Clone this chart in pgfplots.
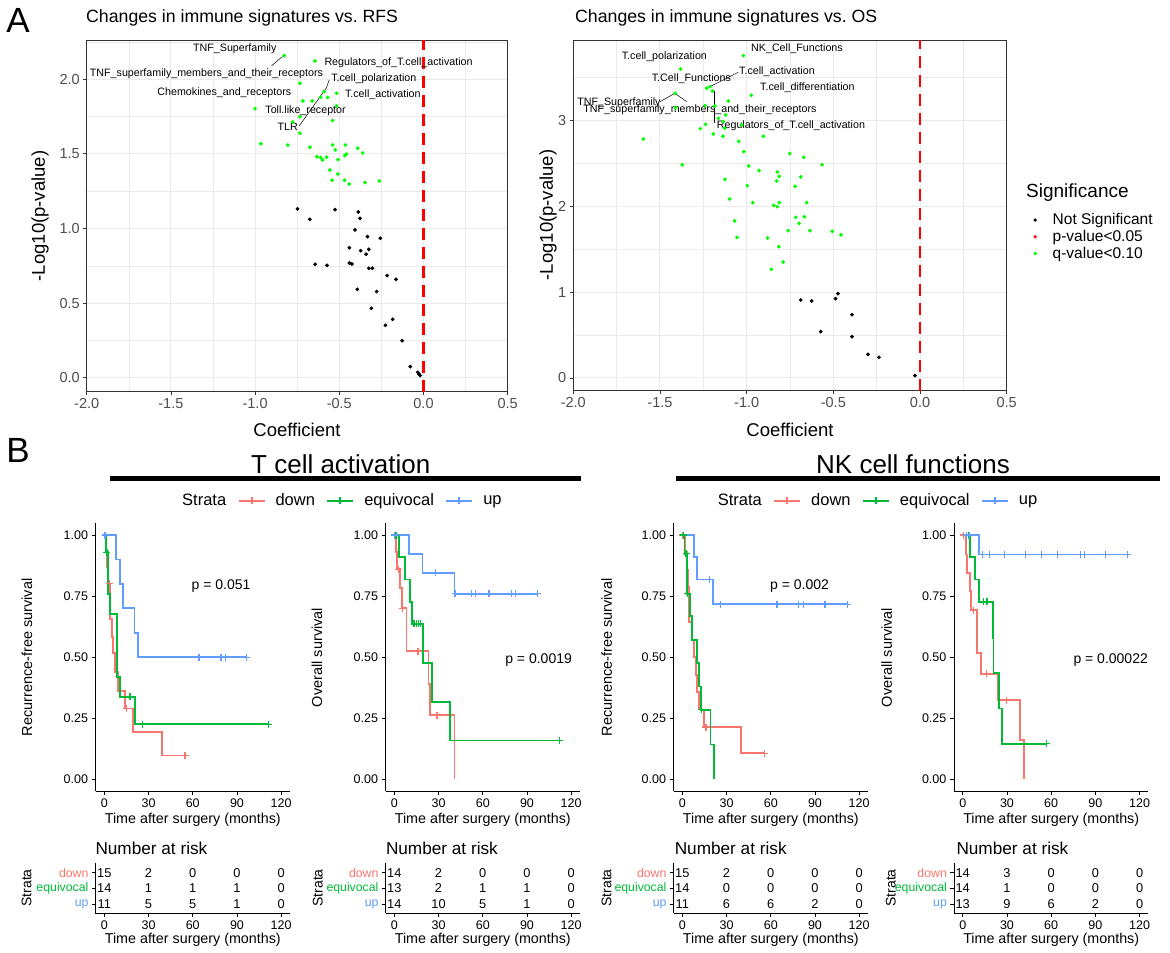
\documentclass[border=0pt]{standalone}
\usepackage{fontspec}
\setmainfont{Liberation Sans}
\usepackage{pgfplots}
\pgfplotsset{compat=1.18}
\definecolor{kmred}{HTML}{F8766D}
\definecolor{kmgreen}{HTML}{00BA38}
\definecolor{kmblue}{HTML}{619CFF}
\definecolor{sigpt}{HTML}{00FF00}
\definecolor{gr20}{HTML}{333333}
\definecolor{gr30}{HTML}{4D4D4D}
\definecolor{gridc}{HTML}{EBEBEB}
\newcommand\fs[1]{\fontsize{#1}{#1}\selectfont}
\tikzset{vlab/.style={font=\fs{10.7}, anchor=west, inner sep=0pt}}

\pgfplotsset{
  volc/.style={scale only axis, anchor=south west, clip=false,
    xmin=-2, xmax=0.5, xtick={-2,-1.5,-1,-0.5,0,0.5},
    minor xtick={-1.75,-1.25,-0.75,-0.25,0.25},
    grid=both, major grid style={gridc, line width=1pt}, minor grid style={gridc, line width=0.5pt},
    axis line style={gr20, line width=0.8pt}, tick align=outside,
    major tick length=3.5pt, minor tick length=0pt, tick style={gr20, line width=0.8pt},
    xtick pos=bottom, ytick pos=left,
    ticklabel style={font=\fs{14.5}, text=gr30},
    /pgf/number format/assume math mode=true,
    xticklabel style={/pgf/number format/.cd, fixed, fixed zerofill, precision=1}},
  gpt/.style={only marks, mark=*, mark size=1.7pt, sigpt},
  bpt/.style={only marks, mark=*, mark size=1.7pt, black},
  dotkey/.style={legend image code/.code={\path[draw=none, fill=none] (0pt,0pt) -- (24pt,0pt); \fill[#1, draw=none] (8.5pt,0pt) circle (1.8pt);}},
  vline/.style={red, line width=2.2pt, dash pattern=on 12pt off 7pt},
  km/.style={scale only axis, anchor=south west, clip=false,
    width=194.5pt, height=268.7pt, xmin=-6, xmax=126, ymin=-0.05, ymax=1.05,
    axis x line*=bottom, axis y line*=left, axis line style={black, line width=0.8pt},
    tick align=outside, major tick length=4pt, tick style={black, line width=0.8pt},
    xtick={0,30,60,90,120}, ytick={0,0.25,0.5,0.75,1},
    yticklabels={0.00,0.25,0.50,0.75,1.00},
    ticklabel style={font=\fs{12.5}, text=black},
    /pgf/number format/assume math mode=true,
    legend image code/.code={\draw[mark repeat=2,mark phase=2,#1] plot coordinates {(0pt,0pt) (13pt,0pt) (26pt,0pt)};},
    legend style={draw=none, fill=none, inner sep=0pt, font=\fs{16.5}, anchor=west,
      nodes={inner sep=0pt},
      /tikz/every odd column/.append style={column sep=10pt},
      /tikz/every even column/.append style={column sep=11.5pt}},
    legend columns=-1},
  kml/.style={const plot, line width=1.8pt, mark=none},
  cens/.style={only marks, mark=+, mark size=3.5pt, mark options={line width=1.2pt}},
  rt/.style={scale only axis, anchor=south west, clip=false,
    width=194.5pt, height=50.1pt, xmin=-6, xmax=126, ymin=0.4, ymax=3.6,
    axis x line*=bottom, axis y line*=left, axis line style={black, line width=0.8pt},
    tick align=outside, major tick length=3.5pt, tick style={black, line width=0.8pt},
    xtick={0,30,60,90,120}, ytick={1,2,3},
    yticklabels={\textcolor{kmblue}{up},\textcolor{kmgreen}{equivocal},\textcolor{kmred}{down}},
    xticklabel style={font=\fs{12.5}, text=black},
    yticklabel style={font=\fs{12.3}},
    /pgf/number format/assume math mode=true},
  rtn/.style={draw=none, mark=none, nodes near coords, point meta=explicit symbolic,
    every node near coord/.append style={anchor=center, font=\fs{12.8}, text=black, inner sep=0pt}},
}

\begin{document}
\begin{tikzpicture}
\useasboundingbox (0pt,0pt) rectangle (1170pt,953pt);

% ---------------- panel A ----------------
\node[font=\fs{35}, inner sep=0pt] at (18pt,933pt) {A};
\node[font=\fs{17.7}, anchor=west, inner sep=0pt] at (86pt,935pt) {Changes in immune signatures vs.\ RFS};
\node[font=\fs{17.7}, anchor=west, inner sep=0pt] at (575pt,935pt) {Changes in immune signatures vs.\ OS};

\begin{axis}[volc, at={(86.7pt,561.3pt)}, width=421pt, height=351.7pt,
  ymin=-0.094, ymax=2.263, ytick={0,0.5,1,1.5,2}, minor ytick={0.25,0.75,1.25,1.75,2.25},
  yticklabel style={/pgf/number format/.cd, fixed, fixed zerofill, precision=1}]
\addplot[vline] coordinates {(0,-0.094) (0,2.263)};
\addplot[bpt] coordinates {
(-0.748,1.131) (-0.526,1.126) (-0.387,1.111) (-0.675,1.061) (-0.377,1.068)
(-0.407,0.990) (-0.333,0.945) (-0.256,0.934) (-0.44,0.871) (-0.373,0.851)
(-0.325,0.860) (-0.341,0.827) (-0.643,0.760) (-0.573,0.753) (-0.44,0.768)
(-0.425,0.762) (-0.325,0.733) (-0.304,0.733) (-0.216,0.684) (-0.163,0.659)
(-0.393,0.592) (-0.278,0.577) (-0.31,0.465) (-0.183,0.391) (-0.226,0.351)
(-0.127,0.248) (-0.079,0.074) (-0.034,0.036) (-0.028,0.025) (-0.02,0.014)};
\addplot[gpt] coordinates {
(-0.827,2.158) (-0.645,2.122) (-0.734,1.973) (-0.589,1.917) (-0.516,1.906)
(-0.611,1.879) (-0.569,1.877) (-0.716,1.854) (-0.661,1.854) (-0.516,1.821)
(-1.0,1.803) (-0.734,1.749) (-0.778,1.714) (-0.54,1.723) (-0.734,1.638)
(-0.966,1.568) (-0.806,1.559) (-0.675,1.544) (-0.54,1.559) (-0.464,1.559)
(-0.524,1.526) (-0.391,1.537) (-0.361,1.506) (-0.633,1.481) (-0.611,1.475)
(-0.575,1.477) (-0.599,1.459) (-0.508,1.461) (-0.468,1.488) (-0.458,1.499)
(-0.556,1.392) (-0.508,1.365) (-0.542,1.323) (-0.468,1.323) (-0.442,1.298)
(-0.347,1.307) (-0.262,1.318)};
\draw[line width=0.5pt] (axis cs:-0.903,2.089) -- (axis cs:-0.838,2.152);
\draw[line width=0.5pt] (axis cs:-0.56,1.995) -- (axis cs:-0.577,1.942) -- (axis cs:-0.738,1.687);
\node[vlab] at (axis cs:-1.369,2.203) {TNF\_Superfamily};
\node[vlab] at (axis cs:-0.589,2.111) {Regulators\_of\_T.cell\_activation};
\node[vlab] at (axis cs:-1.982,2.040) {TNF\_superfamily\_members\_and\_their\_receptors};
\node[vlab] at (axis cs:-0.549,2.002) {T.cell\_polarization};
\node[vlab] at (axis cs:-1.581,1.910) {Chemokines\_and\_receptors};
\node[vlab] at (axis cs:-0.467,1.895) {T.cell\_activation};
\node[vlab] at (axis cs:-0.940,1.788) {Toll.like\_receptor};
\node[vlab] at (axis cs:-0.867,1.682) {TLR};
\end{axis}
\node[font=\fs{18.5}] at (297pt,523pt) {Coefficient};
\node[font=\fs{18.5}, rotate=90] at (40pt,737pt) {-Log10(p-value)};

\begin{axis}[volc, at={(573.3pt,562.3pt)}, width=433.4pt, height=350.7pt,
  ymin=-0.148, ymax=3.939, ytick={0,1,2,3}, minor ytick={0.5,1.5,2.5,3.5},
  legend style={at={(1.0457,0.511)}, anchor=north west, draw=none, fill=none,
    font=\fs{15.5}, inner sep=0pt, row sep=0pt},
  legend cell align=left]
\addlegendimage{dotkey=black}
\addlegendimage{dotkey=red}
\addlegendimage{dotkey=sigpt}
\addplot[vline] coordinates {(0,-0.148) (0,3.939)};
\addplot[bpt] coordinates {
(-0.688,0.909) (-0.625,0.897) (-0.473,0.983) (-0.487,0.925) (-0.392,0.738)
(-0.573,0.540) (-0.392,0.482) (-0.300,0.276) (-0.237,0.241) (-0.029,0.027)};
\addplot[gpt] coordinates {
(-1.019,3.757) (-1.381,3.601) (-1.231,3.376) (-1.212,3.395) (-1.198,3.345)
(-1.413,3.318) (-0.973,3.294) (-1.106,3.228) (-1.240,3.174) (-1.183,3.170)
(-1.410,3.151) (-1.121,3.065) (-1.163,3.026) (-1.135,2.988) (-1.029,2.949)
(-1.237,2.956) (-1.267,2.906) (-1.127,2.910) (-1.192,2.844) (-1.137,2.817)
(-0.904,2.817) (-1.596,2.786) (-1.046,2.758) (-1.017,2.638) (-0.752,2.615)
(-0.671,2.572) (-1.371,2.486) (-0.565,2.486) (-0.988,2.471) (-0.929,2.416)
(-0.823,2.401) (-0.812,2.350) (-0.688,2.343) (-1.125,2.315) (-0.827,2.296)
(-0.996,2.242) (-0.721,2.234) (-1.098,2.086) (-0.965,2.044) (-0.654,2.044)
(-0.844,2.012) (-0.812,2.044) (-0.823,1.997) (-0.717,1.873) (-0.667,1.880)
(-1.069,1.830) (-0.698,1.803) (-1.056,1.639) (-0.760,1.717) (-0.635,1.717)
(-0.506,1.709) (-0.456,1.667) (-0.879,1.632) (-0.815,1.531) (-0.790,1.352)
(-0.858,1.267)};
\legend{Not Significant, p-value<0.05, q-value<0.10}
\draw[line width=0.5pt] (axis cs:-1.048,3.563) -- (axis cs:-1.212,3.395);
\draw[line width=0.5pt] (axis cs:-1.5,3.22) -- (axis cs:-1.414,3.318) -- (axis cs:-1.346,3.22);
\draw[line width=0.5pt] (axis cs:-1.187,3.345) -- (axis cs:-1.187,2.968);
\node[vlab] at (axis cs:-0.975,3.834) {NK\_Cell\_Functions};
\node[vlab] at (axis cs:-1.721,3.745) {T.cell\_polarization};
\node[vlab] at (axis cs:-1.044,3.570) {T.cell\_activation};
\node[vlab] at (axis cs:-1.548,3.493) {T.Cell\_Functions};
\node[vlab] at (axis cs:-0.923,3.383) {T.cell\_differentiation};
\node[vlab] at (axis cs:-1.978,3.209) {TNF\_Superfamily};
\node[vlab] at (axis cs:-1.943,3.124) {TNF\_superfamily\_members\_and\_their\_receptors};
\node[vlab] at (axis cs:-1.173,2.945) {Regulators\_of\_T.cell\_activation};
\end{axis}
\node[font=\fs{18.5}] at (790pt,523pt) {Coefficient};
\node[font=\fs{18.5}, rotate=90] at (548pt,738pt) {-Log10(p-value)};
\node[font=\fs{19}, anchor=west, inner sep=0pt] at (1026pt,760.3pt) {Significance};

% ---------------- panel B ----------------
\node[font=\fs{35}, inner sep=0pt] at (18pt,502.5pt) {B};
\node[font=\fs{26}, inner sep=0pt, anchor=base] at (340.8pt,479.7pt) {T cell activation};
\node[font=\fs{26}, inner sep=0pt, anchor=base] at (913pt,479.7pt) {NK cell functions};
\draw[line width=4.5pt] (110pt,474.7pt) -- (580.8pt,474.7pt);
\draw[line width=4.5pt] (676pt,474.7pt) -- (1160pt,474.7pt);

% KM 1: RFS, T cell activation
\begin{axis}[km, at={(95.5pt,161.5pt)}, legend style={at={(0.3933,1.0823)}}]
\addlegendimage{empty legend}
\addlegendimage{kmred, line width=1.8pt, mark=+, mark size=3.5pt}
\addlegendimage{kmgreen, line width=1.8pt, mark=+, mark size=3.5pt}
\addlegendimage{kmblue, line width=1.8pt, mark=+, mark size=3.5pt}
\addplot[kml, kmred] coordinates {(0,1) (1.2,0.933) (1.8,0.867) (2.5,0.8) (3.8,0.727) (4.0,0.655)
 (5.2,0.584) (6.1,0.516) (7.2,0.438) (9.1,0.363) (14.1,0.29) (19.2,0.194) (39.4,0.097) (54.8,0.097)};
\addplot[cens, kmred] coordinates {(3.4,0.8) (15.2,0.29) (54.8,0.097)};
\addplot[kml, kmgreen] coordinates {(0,1) (1.1,0.929) (2.7,0.76) (3.8,0.676) (8.8,0.42) (10.6,0.338)
 (20.8,0.225) (111.6,0.225)};
\addplot[cens, kmgreen] coordinates {(1.8,0.929) (17.4,0.338) (25.8,0.225) (111.6,0.225)};
\addplot[kml, kmblue] coordinates {(0,1) (7.7,0.9) (10.6,0.8) (12.5,0.7) (20.4,0.6) (23.1,0.5) (96.7,0.5)};
\addplot[cens, kmblue] coordinates {(0.5,1) (64.3,0.5) (79.2,0.5) (82.4,0.5) (96.7,0.5)};
\node[font=\fs{14}] at (axis cs:79.2,0.79) {p = 0.051};
\legend{Strata, down, equivocal, up}
\end{axis}

% KM 2: OS, T cell activation
\begin{axis}[km, at={(385.5pt,161.5pt)}]
\addplot[kml, kmred] coordinates {(0,1) (0.9,0.93) (1.6,0.86) (3.9,0.783) (5,0.70) (8.2,0.525)
 (23.2,0.39) (24.4,0.262) (40.8,0)};
\addplot[cens, kmred] coordinates {(2.7,0.86) (5.5,0.70) (16,0.525) (28.9,0.262)};
\addplot[kml, kmgreen] coordinates {(0,1) (3.4,0.909) (7.3,0.818) (10.7,0.727) (12.1,0.636) (19.4,0.477)
 (25.7,0.318) (37.6,0.159) (112.3,0.159)};
\addplot[cens, kmgreen] coordinates {(1.1,1) (13.4,0.636) (14.8,0.636) (16.4,0.636) (17.5,0.636) (112.3,0.159)};
\addplot[kml, kmblue] coordinates {(0,1) (10,0.923) (19.1,0.846) (40.8,0.76) (97.3,0.76)};
\addplot[cens, kmblue] coordinates {(0,1) (27.8,0.846) (41.2,0.76) (52.4,0.76) (55.1,0.76) (64.2,0.76)
 (79.5,0.76) (82,0.76) (97.3,0.76)};
\node[font=\fs{14}] at (axis cs:97.9,0.49) {p = 0.0019};
\end{axis}

% KM 3: RFS, NK cell functions
\begin{axis}[km, at={(673.5pt,161.5pt)}, legend style={at={(0.1758,1.0823)}}]
\addlegendimage{empty legend}
\addlegendimage{kmred, line width=1.8pt, mark=+, mark size=3.5pt}
\addlegendimage{kmgreen, line width=1.8pt, mark=+, mark size=3.5pt}
\addlegendimage{kmblue, line width=1.8pt, mark=+, mark size=3.5pt}
\addplot[kml, kmred] coordinates {(0,1) (1.8,0.929) (2.9,0.857) (4,0.786) (4.7,0.643) (6.3,0.571)
 (8.1,0.5) (9.5,0.428) (10.1,0.357) (11.3,0.286) (14.6,0.214) (39.6,0.107) (55.8,0.107)};
\addplot[cens, kmred] coordinates {(0,1) (16,0.214) (55.8,0.107)};
\addplot[kml, kmgreen] coordinates {(0,1) (1.4,0.923) (2.9,0.846) (3.4,0.76) (5.2,0.667) (6.8,0.57)
 (9.7,0.475) (11.3,0.38) (12.4,0.285) (19.1,0.142) (21.4,0)};
\addplot[cens, kmgreen] coordinates {(0.7,1) (2.5,0.923) (3.7,0.76) (13,0.285)};
\addplot[kml, kmblue] coordinates {(0,1) (8.1,0.909) (9.7,0.818) (20.9,0.716) (112.1,0.716)};
\addplot[cens, kmblue] coordinates {(18.2,0.818) (25.9,0.716) (64.2,0.716) (79,0.716) (82.2,0.716)
 (96.8,0.716) (112.1,0.716)};
\node[font=\fs{14}] at (axis cs:79.5,0.79) {p = 0.002};
\legend{Strata, down, equivocal, up}
\end{axis}

% KM 4: OS, NK cell functions
\begin{axis}[km, at={(953.9pt,161.5pt)}]
\addplot[kml, kmred] coordinates {(0,1) (2.2,0.92) (2.7,0.846) (5,0.77) (5.4,0.692) (9.4,0.518)
 (12.6,0.432) (23.6,0.323) (38.7,0.162) (41.3,0)};
\addplot[cens, kmred] coordinates {(0.4,1) (7.2,0.692) (16.2,0.432) (29.7,0.323)};
\addplot[kml, kmgreen] coordinates {(0,1) (4.9,0.909) (8.3,0.818) (11.2,0.727) (20.5,0.58) (20.9,0.436)
 (24.7,0.29) (26.5,0.145) (56.6,0.145)};
\addplot[cens, kmgreen] coordinates {(2.7,1) (3.8,1) (13.9,0.727) (16.2,0.727) (16.9,0.727) (56.6,0.145)};
\addplot[kml, kmblue] coordinates {(0,1) (11.2,0.92) (111.7,0.92)};
\addplot[cens, kmblue] coordinates {(2.7,1) (4.5,1) (13.5,0.92) (18,0.92) (28.5,0.92) (42.7,0.92)
 (53.3,0.92) (64.5,0.92) (79.8,0.92) (82.5,0.92) (97.1,0.92) (111.7,0.92)};
\node[font=\fs{14}] at (axis cs:100.4,0.49) {p = 0.00022};
\end{axis}

\node[font=\fs{14.5}, rotate=90] at (27pt,295.5pt) {Recurrence-free survival};
\node[font=\fs{14.5}, rotate=90] at (317pt,295.5pt) {Overall survival};
\node[font=\fs{14.5}, rotate=90] at (606.7pt,295.5pt) {Recurrence-free survival};
\node[font=\fs{14.5}, rotate=90] at (886.7pt,295.5pt) {Overall survival};
\node[font=\fs{14.3}] at (192.8pt,133pt) {Time after surgery (months)};
\node[font=\fs{14.3}] at (482.8pt,133pt) {Time after surgery (months)};
\node[font=\fs{14.3}] at (770.8pt,133pt) {Time after surgery (months)};
\node[font=\fs{14.3}] at (1051.2pt,133pt) {Time after surgery (months)};

% risk tables
\begin{axis}[rt, at={(95.5pt,39.6pt)}]
\addplot[rtn] table[row sep=\\, meta=n] {x y n\\
0 3 15\\ 30 3 2\\ 60 3 0\\ 90 3 0\\ 120 3 0\\
0 2 14\\ 30 2 1\\ 60 2 1\\ 90 2 1\\ 120 2 0\\
0 1 11\\ 30 1 5\\ 60 1 5\\ 90 1 1\\ 120 1 0\\};
\end{axis}
\begin{axis}[rt, at={(385.5pt,39.6pt)}]
\addplot[rtn] table[row sep=\\, meta=n] {x y n\\
0 3 14\\ 30 3 2\\ 60 3 0\\ 90 3 0\\ 120 3 0\\
0 2 13\\ 30 2 2\\ 60 2 1\\ 90 2 1\\ 120 2 0\\
0 1 14\\ 30 1 10\\ 60 1 5\\ 90 1 1\\ 120 1 0\\};
\end{axis}
\begin{axis}[rt, at={(673.5pt,39.6pt)}]
\addplot[rtn] table[row sep=\\, meta=n] {x y n\\
0 3 15\\ 30 3 2\\ 60 3 0\\ 90 3 0\\ 120 3 0\\
0 2 14\\ 30 2 0\\ 60 2 0\\ 90 2 0\\ 120 2 0\\
0 1 11\\ 30 1 6\\ 60 1 6\\ 90 1 2\\ 120 1 0\\};
\end{axis}
\begin{axis}[rt, at={(953.9pt,39.6pt)}]
\addplot[rtn] table[row sep=\\, meta=n] {x y n\\
0 3 14\\ 30 3 3\\ 60 3 0\\ 90 3 0\\ 120 3 0\\
0 2 14\\ 30 2 1\\ 60 2 0\\ 90 2 0\\ 120 2 0\\
0 1 13\\ 30 1 9\\ 60 1 6\\ 90 1 2\\ 120 1 0\\};
\end{axis}

\node[font=\fs{17.2}, anchor=west, inner sep=0pt] at (95.3pt,105pt) {Number at risk};
\node[font=\fs{17.2}, anchor=west, inner sep=0pt] at (385.8pt,105pt) {Number at risk};
\node[font=\fs{17.2}, anchor=west, inner sep=0pt] at (674.6pt,105pt) {Number at risk};
\node[font=\fs{17.2}, anchor=west, inner sep=0pt] at (956.3pt,105pt) {Number at risk};
\node[font=\fs{14}, rotate=90] at (26.5pt,65pt) {Strata};
\node[font=\fs{14}, rotate=90] at (317.7pt,65pt) {Strata};
\node[font=\fs{14}, rotate=90] at (606.5pt,65pt) {Strata};
\node[font=\fs{14}, rotate=90] at (890.9pt,65pt) {Strata};
\node[font=\fs{14.3}] at (192.8pt,13pt) {Time after surgery (months)};
\node[font=\fs{14.3}] at (482.8pt,13pt) {Time after surgery (months)};
\node[font=\fs{14.3}] at (770.8pt,13pt) {Time after surgery (months)};
\node[font=\fs{14.3}] at (1051.2pt,13pt) {Time after surgery (months)};
\end{tikzpicture}
\end{document}
